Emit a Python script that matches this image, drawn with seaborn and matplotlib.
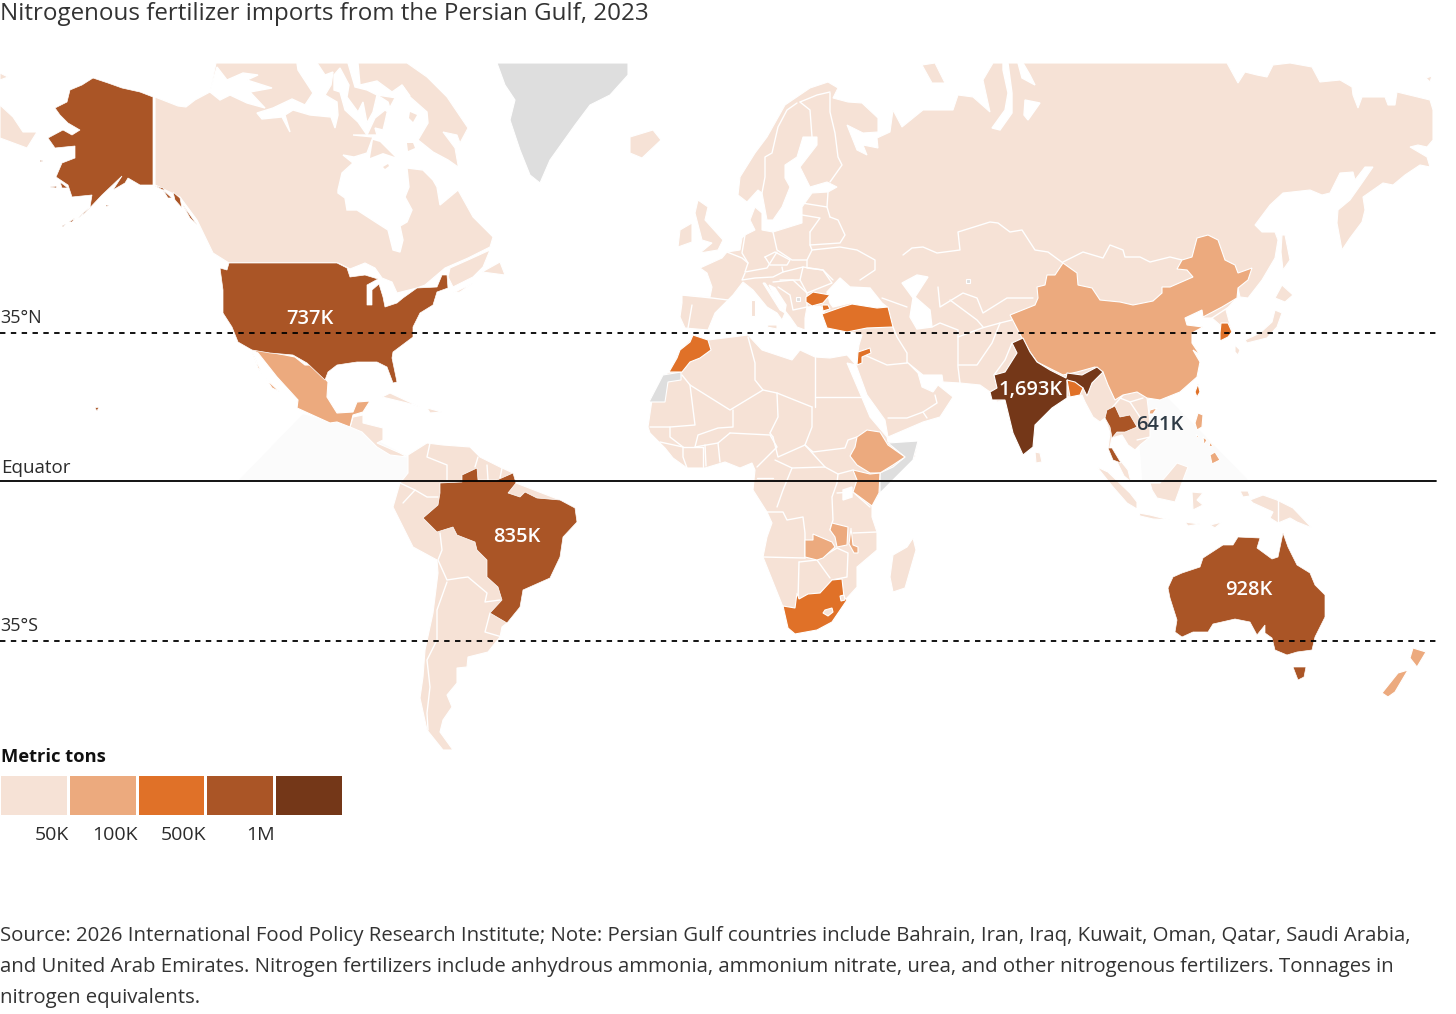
import matplotlib
matplotlib.use('Agg')
import numpy as np
import matplotlib.pyplot as plt
from matplotlib.colors import ListedColormap
import seaborn as sns

# legend
tier_names = ['under 50K', '50K-100K', '100K-500K', '500K-1M', 'over 1M']
tier_colors = ['#F6E2D6', '#ECAA7E', '#E07128', '#AA5526', '#743718']
tier_ticks = ['50K', '100K', '500K', '1M']
no_data = '#DEDEDE'

# value labels
label_text = ['737K', '835K', '928K', '1,693K', '641K']
label_x = [310, 517, 1249, 1031, 1160]
label_y = [318, 536, 589, 389, 424]

EURASIA = [(828,82),(838,88),(833,98),(848,102),(862,103),(878,118),(878,132),(863,133),(847,125),(857,150),(867,155),(863,145),(878,148),(877,138),(890,132),(893,110),(902,127),(923,110),(953,110),(958,95),(973,97),(990,112),(983,80),(993,63),(1227,63),(1238,83),(1245,72),(1257,75),(1267,77),(1273,65),(1290,63),(1312,67),(1320,82),(1340,80),(1352,87),(1353,95),(1358,108),(1362,97),(1385,97),(1388,105),(1395,105),(1397,92),(1430,100),(1433,110),(1433,140),(1427,147),(1418,145),(1410,147),(1427,157),(1430,167),(1420,165),(1405,175),(1393,185),(1383,183),(1363,197),(1365,210),(1362,222),(1350,238),(1342,250),(1337,223),(1338,210),(1350,200),(1362,183),(1373,167),(1365,167),(1355,180),(1353,172),(1340,173),(1330,193),(1322,195),(1310,190),(1283,193),(1270,205),(1255,225),(1262,232),(1275,232),(1278,240),(1275,258),(1262,280),(1248,298),(1240,297),(1238,288),(1237,298),(1232,303),(1226,310),(1232,332),(1228,337),(1220,341),(1220,325),(1212,318),(1203,318),(1202,310),(1185,318),(1187,325),(1203,327),(1192,333),(1192,343),(1200,355),(1193,350),(1200,362),(1197,377),(1180,392),(1160,400),(1147,398),(1150,423),(1150,437),(1140,445),(1135,450),(1128,445),(1122,435),(1112,438),(1110,447),(1120,460),(1128,470),(1131,482),(1124,476),(1117,462),(1108,448),(1110,433),(1105,418),(1100,422),(1093,417),(1085,402),(1082,395),(1067,397),(1052,408),(1035,425),(1033,447),(1023,455),(1013,433),(1005,400),(997,402),(990,392),(980,385),(960,383),(943,382),(942,375),(923,375),(907,362),(918,373),(922,387),(933,392),(938,385),(953,397),(940,417),(923,422),(888,437),(885,420),(867,395),(856,365),(859,345),(862,335),(850,332),(827,328),(822,314),(825,311),(820,306),(807,307),(805,318),(805,330),(797,327),(790,317),(782,307),(770,290),(765,283),(763,283),(780,310),(785,313),(782,320),(777,313),(767,307),(753,290),(743,282),(733,295),(728,300),(715,313),(708,330),(685,328),(680,317),(682,303),(682,295),(710,297),(712,287),(707,273),(700,268),(722,258),(727,252),(740,250),(742,238),(745,235),(755,230),(750,220),(755,207),(762,213),(762,230),(773,232),(802,223),(802,207),(812,193),(828,192),(837,187),(827,182),(810,187),(800,167),(817,145),(817,137),(803,137),(797,157),(785,165),(785,178),(790,187),(782,207),(773,220),(767,220),(762,193),(758,190),(747,202),(738,195),(740,177),(755,153),(767,137),(785,105),(810,88)]
AFRICA = [(693,335),(708,340),(748,335),(762,350),(792,360),(800,350),(815,357),(830,358),(847,355),(856,365),(847,363),(862,398),(870,417),(887,437),(888,442),(918,442),(915,457),(880,493),(872,505),(872,517),(877,532),(877,550),(857,567),(857,587),(847,598),(832,622),(817,630),(795,634),(788,628),(783,607),(775,587),(763,557),(767,537),(772,523),(767,512),(753,490),(755,470),(752,463),(740,468),(725,462),(705,468),(687,468),(673,458),(665,448),(650,433),(648,427),(652,400),(663,375),(670,372),(678,353),(690,340)]
CANADA = [(155,97),(178,106),(186,107),(195,100),(210,92),(216,63),(407,63),(427,77),(447,97),(468,128),(460,143),(457,135),(443,132),(455,148),(458,165),(458,190),(473,217),(493,237),(490,247),(468,258),(445,268),(425,285),(417,288),(397,293),(392,282),(382,278),(375,268),(365,263),(350,269),(338,263),(229,263),(213,253),(197,220),(180,197),(155,185)]
CANADA_WATER = [
    [(210,92),(217,67),(227,80),(243,73),(258,75),(247,80),(272,88),(250,92),(265,108),(247,103),(230,95),(220,100)],
    [(257,113),(273,108),(292,99),(305,105),(313,93),(298,70),(297,63),(317,63),(325,75),(333,72),(331,85),(325,95),(337,102),(338,115),(335,128),(331,117),(310,115),(293,110),(285,115),(290,132),(282,117),(262,119)],
    [(338,190),(342,173),(353,163),(343,155),(354,157),(367,153),(373,137),(353,135),(377,135),(375,128),(383,130),(385,122),(387,113),(402,85),(410,97),(427,112),(428,123),(418,140),(433,152),(448,160),(458,167),(458,190),(440,205),(437,187),(433,180),(423,170),(407,168),(409,187),(405,197),(412,210),(407,222),(400,226),(403,240),(400,252),(393,250),(388,230),(377,223),(357,210),(347,210),(345,198),(338,193)],
    [(334,75),(340,68),(349,85),(347,97),(358,112),(363,102),(367,123),(373,112),(377,95),(388,102),(392,115),(385,110),(375,118),(367,135),(358,122),(345,110),(340,92),(334,90)],
    [(348,63),(358,63),(360,85),(377,81),(392,92),(402,85),(410,96),(397,98),(377,95),(367,90),(355,87)],
]
CANADA_ISLES = [
    [(373,140),(380,142),(395,157),(383,153),(370,158)],
    [(410,112),(417,115),(413,122),(409,118)],
    [(407,143),(413,143),(415,148),(408,151)],
    [(383,167),(388,164),(389,166),(385,169)],
]
MARITIMES = [[(448,277),(453,287),(473,277),(483,267),(490,250),(468,260),(450,268)],[(482,272),(500,262),(505,275)],[(453,293),(473,283),(460,292)]]
ALASKA = [(153,97),(140,92),(122,88),(108,83),(93,78),(82,85),(70,90),(67,102),(55,108),(60,115),(68,123),(80,130),(72,135),(63,130),(48,138),(55,148),(75,146),(75,158),(62,163),(56,177),(68,185),(72,197),(92,195),(90,207),(78,218),(85,213),(102,195),(122,176),(113,190),(125,183),(128,178),(140,185),(153,185)]
ALASKA_ISLES = [[(50,187),(57,186),(56,188)],[(60,182),(68,188),(62,188)],[(40,160),(43,161),(40,162)],[(69,222),(75,218),(72,222)],[(62,226),(66,224),(63,227)],[(106,205),(109,205),(106,207)],[(95,408),(99,407),(97,411)],[(155,186),(163,188),(165,191)],[(163,190),(172,198),(168,198)],[(173,192),(180,198),(182,208),(175,200)],[(183,205),(195,222),(197,225),(190,218)]]
LOWER_48 = [(229,263),(337,263),(347,268),(350,277),(365,275),(378,279),(367,285),(367,305),(372,305),(372,290),(379,284),(383,297),(385,307),(397,303),(403,298),(417,288),(437,287),(442,275),(447,275),(448,288),(437,292),(433,305),(420,313),(413,327),(413,337),(393,352),(392,358),(397,382),(393,383),(387,367),(377,362),(357,362),(337,365),(328,372),(325,380),(307,363),(293,355),(270,353),(252,350),(238,342),(232,327),(223,313),(223,290),(220,268),(227,270)]
MEXICO = [(252,350),(257,350),(285,355),(295,357),(305,365),(313,365),(328,382),(327,397),(337,413),(353,412),(357,402),(370,401),(363,412),(353,415),(350,427),(337,422),(330,423),(297,408),(298,400),(277,377),(258,353)]
BAJA = [(252,352),(258,368),(267,380),(280,392),(272,388),(262,373)]
CENTRAL_AMERICA = [(350,427),(353,417),(363,415),(363,423),(383,428),(383,440),(377,443),(400,453),(407,457),(390,455),(377,447),(362,432)]
CARIBBEAN = [[(382,397),(390,393),(420,407),(407,403)],[(427,408),(442,412),(430,413)]]
SOUTH_AMERICA = [(408,455),(427,443),(443,445),(470,447),(480,457),(500,467),(513,473),(516,483),(560,500),(575,508),(577,522),(563,537),(560,557),(550,578),(523,590),(520,607),(507,623),(502,627),(500,637),(488,652),(468,657),(467,667),(457,668),(457,683),(447,695),(452,707),(443,720),(440,732),(453,750),(443,750),(427,730),(420,698),(423,677),(425,650),(433,613),(438,573),(437,560),(413,547),(393,507),(400,483),(408,473)]
BRAZIL = [(440,483),(462,482),(462,475),(477,468),(478,480),(497,480),(513,473),(516,483),(508,493),(520,497),(525,492),(537,498),(560,500),(575,508),(577,522),(563,537),(560,557),(550,578),(523,590),(520,607),(507,623),(490,613),(502,600),(498,587),(487,577),(487,560),(477,550),(475,542),(457,535),(453,527),(437,532),(423,518),(438,505),(440,493)]
GREENLAND = [(497,63),(628,63),(628,75),(610,95),(590,105),(575,125),(550,160),(540,183),(530,175),(520,150),(510,120),(515,100),(505,85)]
ICELAND = [(630,137),(653,130),(661,140),(642,158),(630,153)]
CHUKOTKA_WEST = [[(0,105),(13,117),(23,132),(37,132),(27,148),(0,138)],[(0,73),(8,77),(0,80)]]
UK = [(698,200),(708,207),(705,220),(723,240),(718,250),(700,253),(712,243),(702,240),(695,213)]
IRELAND = [(680,230),(692,223),(692,242),(678,247)]
MED_ISLES = [[(751,300),(755,300),(755,316),(751,316)],[(768,325),(777,325),(777,329),(767,327)]]
NOVAYA_ZEMLYA = [(922,65),(935,63),(945,83),(932,83)]
WRANGEL = [(1426,78),(1432,76),(1430,82)]
SAKHALIN = [(1282,235),(1285,235),(1290,260),(1283,270),(1281,252)]
JAPAN = [[(1282,285),(1293,295),(1285,302),(1275,298)],[(1275,310),(1282,313),(1277,327),(1267,338),(1247,343),(1245,340),(1260,333),(1272,322)],[(1235,345),(1240,350),(1238,355),(1235,352)]]
SRI_LANKA = [(1035,452),(1040,453),(1042,462),(1036,463)]
MADAGASCAR = [(913,538),(916,550),(905,588),(893,592),(890,577),(893,555),(907,547)]
INDONESIA = [
    [(1097,467),(1108,472),(1130,493),(1137,502),(1137,509),(1127,503),(1113,487)],
    [(1139,513),(1150,515),(1170,520),(1153,519),(1140,516)],
    [(1150,483),(1160,483),(1167,475),(1177,463),(1188,467),(1183,480),(1175,502),(1157,498),(1152,490)],
    [(1192,492),(1203,493),(1197,500),(1203,505),(1193,510)],
    [(1250,500),(1263,495),(1277,500),(1293,508),(1312,528),(1297,522),(1290,518),(1278,523),(1270,518),(1273,512),(1253,503)],
    [(1240,491),(1248,491),(1250,496),(1243,497)],
    [(1310,512),(1322,506),(1313,511)],
    [(1185,522),(1200,524),(1188,526)],
    [(1210,525),(1222,522),(1215,528)],
]
LAKES = [[(843,490),(852,487),(852,497),(843,500)],
         [(830,303),(827,292),(840,278),(850,287),(870,288),(882,303),(887,307),(870,308),(850,303),(833,307)],
         [(902,283),(917,275),(928,277),(915,297),(930,310),(932,327),(917,329),(910,317),(913,298)],
         [(1003,63),(1003,70),(1008,93),(1005,110),(992,128),(1000,130),(1012,113),(1012,93),(1008,63)],
         [(1018,63),(1022,78),(1035,85),(1030,75),(1023,63)],
         [(1025,100),(1040,103),(1028,120),(1024,115)],
         [(769,285),(775,288),(786,305),(785,311),(778,303)]]
GREY_SPOTS = [[(796,297),(800,297),(800,301),(796,301)],[(966,279),(970,279),(970,283),(966,283)]]
LESOTHO = [(825,610),(832,608),(833,612),(828,616),(823,613)]
ESWATINI = [(840,596),(844,595),(845,600),(841,601)]
TURKEY = [(822,314),(842,307),(852,304),(877,308),(888,307),(893,327),(867,328),(847,332),(827,328),(823,317)]
TURKEY_THRACE = [(822,305),(828,305),(830,309),(823,311)]
BULGARIA = [(806,297),(813,292),(830,295),(823,303),(812,306),(806,302)]
MOROCCO = [(693,335),(708,340),(711,350),(700,358),(690,362),(682,372),(669,372),(677,358),(680,350),(690,342)]
WESTERN_SAHARA = [(649,402),(663,375),(681,372),(681,380),(668,382),(665,402)]
SOMALIA = [(888,443),(918,441),(913,460),(880,493),(880,473),(893,467),(905,457)]
ETHIOPIA = [(857,437),(867,430),(880,432),(888,445),(905,457),(893,465),(880,473),(870,473),(857,465),(850,456),(855,447)]
KENYA = [(853,470),(870,474),(880,473),(879,493),(872,506),(853,492),(857,480)]
ZAMBIA = [(805,540),(813,540),(813,534),(832,542),(835,547),(823,558),(817,560),(805,557)]
KATANGA = [(832,523),(848,527),(847,545),(837,547),(835,537),(830,530)]
MALAWI = [(851,528),(853,545),(858,547),(858,553),(854,553),(849,544)]
SOUTH_AFRICA = [(783,606),(795,608),(797,593),(799,599),(808,594),(820,593),(832,580),(842,579),(844,597),(847,600),(832,622),(817,630),(795,634),(788,628)]
JORDAN = [(857,365),(858,352),(870,348),(871,353),(862,357),(862,363)]
CHINA = [(1063,263),(1077,273),(1078,285),(1092,288),(1100,300),(1120,302),(1133,305),(1153,301),(1162,293),(1162,287),(1170,287),(1193,277),(1187,270),(1177,269),(1182,260),(1192,257),(1197,238),(1208,235),(1218,240),(1225,260),(1235,265),(1238,273),(1252,268),(1248,280),(1238,288),(1237,298),(1222,307),(1203,317),(1202,310),(1185,318),(1187,325),(1203,327),(1192,333),(1192,343),(1200,355),(1193,350),(1200,362),(1197,377),(1180,392),(1160,400),(1147,398),(1137,392),(1123,395),(1115,400),(1108,385),(1103,372),(1095,367),(1077,372),(1063,375),(1037,362),(1030,352),(1022,338),(1010,315),(1035,305),(1038,298),(1037,287),(1045,285),(1047,275),(1055,275)]
INDIA = [(1023,338),(1030,352),(1037,362),(1050,370),(1066,378),(1067,373),(1082,375),(1097,367),(1103,372),(1092,383),(1087,396),(1083,388),(1078,385),(1067,380),(1067,398),(1052,408),(1035,425),(1033,447),(1023,455),(1013,433),(1005,400),(992,400),(990,392),(997,388),(994,375),(1005,372),(1017,353),(1012,343)]
BANGLADESH = [(1067,380),(1075,382),(1083,388),(1080,395),(1070,397)]
THAILAND = [(1107,410),(1115,406),(1120,417),(1130,415),(1137,427),(1125,432),(1117,432),(1112,438),(1110,427),(1105,418)]
THAI_SOUTH = [(1108,448),(1112,448),(1121,463),(1113,460)]
SOUTH_KOREA = [(1221,323),(1228,323),(1232,332),(1228,337),(1220,341),(1220,333)]
TAIWAN = [(1198,384),(1200,392),(1197,397),(1195,392)]
HAINAN = [(1150,410),(1157,408),(1153,414),(1149,414)]
PHILIPPINES = [[(1198,413),(1203,415),(1202,427),(1197,430),(1195,423)],[(1215,452),(1220,460),(1212,464),(1210,455)],[(1203,437),(1207,440),(1204,445)],[(1210,442),(1213,446),(1209,447)],[(1196,434),(1199,437),(1197,438)]]
AUSTRALIA = [(1168,588),(1173,577),(1182,573),(1200,567),(1203,558),(1223,545),(1233,545),(1238,537),(1260,538),(1257,548),(1272,559),(1278,557),(1283,533),(1288,547),(1297,565),(1310,573),(1315,585),(1325,595),(1325,617),(1315,637),(1312,650),(1297,652),(1287,655),(1275,650),(1272,638),(1265,633),(1265,625),(1257,635),(1250,622),(1235,619),(1213,624),(1208,632),(1193,632),(1182,637),(1175,632),(1177,620),(1170,598)]
TASMANIA = [(1293,667),(1306,667),(1304,677),(1298,680)]
NEW_ZEALAND = [[(1413,648),(1426,652),(1417,667),(1410,658)],[(1408,670),(1395,692),(1388,697),(1382,693),(1398,673)]]
# barely visible pale shapes in the original artwork
FAINT_WEDGES = [[(240,480),(303,415),(350,427),(407,457),(410,480)],[(1137,403),(1167,398),(1247,480),(1143,480)]]

BORDERS = [
    [(800,102),(810,110),(812,137)], [(797,103),(787,110),(778,127),(772,153),(765,157),(765,177),(762,193)],
    [(830,93),(830,112),(835,133),(838,157),(842,165),(830,182)], [(800,102),(817,95),(830,92)],
    [(828,192),(827,207),(830,217)], [(802,203),(827,207)], [(802,215),(820,218),(810,232)],
    [(830,217),(838,220),(845,235),(840,243),(810,245),(810,232)], [(773,232),(777,250),(792,260),(807,260),(812,250),(810,245)],
    [(812,250),(840,247),(857,250),(875,260),(875,270),(860,280)], [(807,260),(807,268),(823,270),(833,280)],
    [(745,235),(742,253),(748,263),(745,272),(767,268),(777,252)], [(765,257),(775,252),(790,260),(787,265),(770,265),(765,257)],
    [(745,273),(742,280),(755,278),(773,277),(783,272),(782,267)], [(783,272),(803,267),(800,280),(780,280)],
    [(803,267),(823,270),(832,283),(807,293),(800,280)], [(773,282),(793,280),(807,293),(807,307),(793,310),(790,295),(778,287)],
    [(682,295),(712,298),(728,300)], [(692,305),(688,328)], [(727,252),(742,258),(748,263)],
    [(903,255),(912,248),(923,247),(937,253),(960,250),(958,232),(990,222),(998,223),(1010,232),(1022,230),(1035,250),(1048,252),(1063,263)],
    [(1063,262),(1083,252),(1103,258),(1110,245),(1123,250),(1125,257),(1140,257),(1150,262),(1170,257),(1182,260)],
    [(882,298),(907,307)], [(893,327),(897,337),(907,353),(907,363)], [(932,327),(940,323),(958,330),(958,367),(960,383)],
    [(958,337),(982,328),(1000,323),(1020,318)], [(958,365),(977,365),(992,343),(1000,323)],
    [(938,287),(940,307),(963,293),(977,298),(983,313),(1007,298),(1033,298)], [(950,300),(977,320),(983,327)],
    [(860,353),(887,365),(907,363)], [(888,418),(907,418),(923,412),(927,418)], [(923,412),(937,403),(935,395)],
    [(1012,343),(1005,360),(994,375)], [(1120,398),(1130,402),(1140,417),(1137,427)], [(1143,398),(1130,402)], [(1137,440),(1150,437)],
    [(1123,395),(1110,410)], [(1212,318),(1232,305)],
    [(748,337),(755,363),(755,380),(763,390),(777,393),(778,417),(770,433)], [(682,375),(690,385),(730,410),(763,390)],
    [(690,385),(695,425),(670,427),(650,427)], [(733,410),(733,427),(718,428),(698,435),(695,447)],
    [(815,357),(815,407)], [(815,397),(862,397)], [(812,407),(777,393)], [(812,407),(812,427),(805,445),(813,452),(845,448),(848,440),(857,437)],
    [(773,437),(778,457),(805,445)], [(805,445),(825,467),(838,474),(837,483),(832,497),(833,520),(830,530)],
    [(730,433),(770,435),(777,447),(757,467)], [(770,433),(773,437)], [(775,460),(792,468),(825,467)], [(792,468),(783,490),(777,507)],
    [(757,478),(773,478)], [(767,512),(783,512),(787,520),(803,517),(805,533),(805,558)], [(763,557),(805,558)],
    [(799,562),(798,600)], [(799,562),(817,560),(830,578)], [(817,560),(837,548),(848,553),(847,577),(832,580)],
    [(853,533),(877,532)], [(837,493),(853,492),(870,507)], [(838,474),(853,470)],
    [(670,427),(670,437),(683,447),(683,457),(687,468)], [(683,447),(703,447),(703,467)], [(705,445),(706,466)],
    [(718,443),(720,462)], [(695,447),(718,443),(730,433)], [(660,442),(683,447)],
    [(430,443),(427,457),(447,465),(447,480)], [(400,483),(415,490),(403,503)], [(415,490),(427,497),(438,497)],
    [(440,533),(442,550),(438,560),(447,580),(460,578),(468,577),(487,593),(485,602),(500,600)],
    [(447,582),(437,610),(437,640),(427,660),(430,687),(427,713),(428,730)], [(490,613),(485,632),(502,637)],
    [(478,457),(475,467)], [(487,465),(488,480)], [(502,468),(500,478)],
    [(1278,499),(1278,523)],
]


def fill(ax, pts, color, zorder=2, lw=0.8):
    xs, ys = zip(*pts)
    ax.fill(xs, ys, facecolor=color, edgecolor='white', linewidth=lw, zorder=zorder)


sns.set_theme(style='white')
plt.rcParams['font.family'] = ['Open Sans', 'DejaVu Sans']

fig = plt.figure(figsize=(14.56, 10.14), dpi=100)
ax = fig.add_axes([0, 0, 1, 1])
ax.set_xlim(0, 1456)
ax.set_ylim(1014, 0)
ax.axis('off')

light, mid, orange, brown, dark = tier_colors

for wedge in FAINT_WEDGES:
    xs, ys = zip(*wedge)
    ax.fill(xs, ys, color='#FBFBFB', zorder=1)

light_shapes = [EURASIA, AFRICA, CANADA, CENTRAL_AMERICA, SOUTH_AMERICA, ICELAND, UK, IRELAND,
                NOVAYA_ZEMLYA, WRANGEL, SAKHALIN, SRI_LANKA, MADAGASCAR]
light_shapes += MARITIMES + CARIBBEAN + CHUKOTKA_WEST + MED_ISLES + JAPAN + INDONESIA
for shape in light_shapes:
    fill(ax, shape, light)

for border in BORDERS:
    xs, ys = zip(*border)
    ax.plot(xs, ys, color='white', linewidth=1.0, zorder=3)
for lake in LAKES + CANADA_WATER:
    xs, ys = zip(*lake)
    ax.fill(xs, ys, color='white', zorder=3)
for shape in CANADA_ISLES:
    fill(ax, shape, light, zorder=3.5, lw=0)

for shape in [GREENLAND, WESTERN_SAHARA, SOMALIA] + GREY_SPOTS:
    fill(ax, shape, no_data, zorder=4)
for shape in [CHINA, MEXICO, BAJA, ETHIOPIA, KENYA, ZAMBIA, KATANGA, MALAWI, HAINAN] + PHILIPPINES + NEW_ZEALAND:
    fill(ax, shape, mid, zorder=4)
for shape in [TURKEY, TURKEY_THRACE, BULGARIA, MOROCCO, SOUTH_AFRICA, JORDAN, BANGLADESH, SOUTH_KOREA, TAIWAN]:
    fill(ax, shape, orange, zorder=5)
for shape in [ALASKA, LOWER_48, BRAZIL, AUSTRALIA, TASMANIA, THAILAND, THAI_SOUTH] + ALASKA_ISLES:
    fill(ax, shape, brown, zorder=4, lw=0.5)
fill(ax, INDIA, dark, zorder=4)
for shape in [LESOTHO, ESWATINI]:
    fill(ax, shape, light, zorder=6)

# latitude lines
sns.lineplot(x=[0, 1436], y=[481, 481], color='black', linewidth=1.3, ax=ax, zorder=7)
for lat_y in [333, 641]:
    sns.lineplot(x=[0, 1436], y=[lat_y, lat_y], color='black', linewidth=1.3, linestyle=(0, (3, 3)), ax=ax, zorder=7)
ax.set_xlim(0, 1456)
ax.set_ylim(1014, 0)

line_text = '#2B2B2B'
ax.text(0, 318, '35°N', fontsize=13, color=line_text, va='center', zorder=8)
ax.text(1, 468, 'Equator', fontsize=13.5, color=line_text, va='center', zorder=8)
ax.text(0, 626, '35°S', fontsize=13, color=line_text, va='center', zorder=8)

for txt, lx, ly in zip(label_text, label_x, label_y):
    col = '#2E3A45' if txt == '641K' else 'white'
    ax.text(lx, ly + 1, txt, fontsize=14.5, fontweight='semibold', color=col, ha='center', va='center', zorder=9)

ax.text(0, 14, 'Nitrogenous fertilizer imports from the Persian Gulf, 2023', fontsize=17.4, color='#333333', va='center')
ax.text(1, 757, 'Metric tons', fontsize=13.2, fontweight='bold', color='#111111', va='center')

# legend as a one row heatmap
leg_ax = fig.add_axes([-1 / 1456, 1 - 816 / 1014, 344 / 1456, 42 / 1014])
sns.heatmap(np.arange(len(tier_names)).reshape(1, -1), cmap=ListedColormap(tier_colors), cbar=False,
            linewidths=1.0, linecolor='white', xticklabels=False, yticklabels=False, ax=leg_ax)
cell = 342 / len(tier_names)
for i, tick in enumerate(tier_ticks):
    ax.text(cell * (i + 1) + 1, 835, tick, fontsize=14, color=line_text, ha='right', va='center')

source = ['Source: 2026 International Food Policy Research Institute; Note: Persian Gulf countries include Bahrain, Iran, Iraq, Kuwait, Oman, Qatar, Saudi Arabia,',
          'and United Arab Emirates. Nitrogen fertilizers include anhydrous ammonia, ammonium nitrate, urea, and other nitrogenous fertilizers. Tonnages in',
          'nitrogen equivalents.']
for i, row in enumerate(source):
    ax.text(0, 936 + 31 * i, row, fontsize=14.7, color='#333333', va='center')

fig.savefig('out.png', dpi=100)
